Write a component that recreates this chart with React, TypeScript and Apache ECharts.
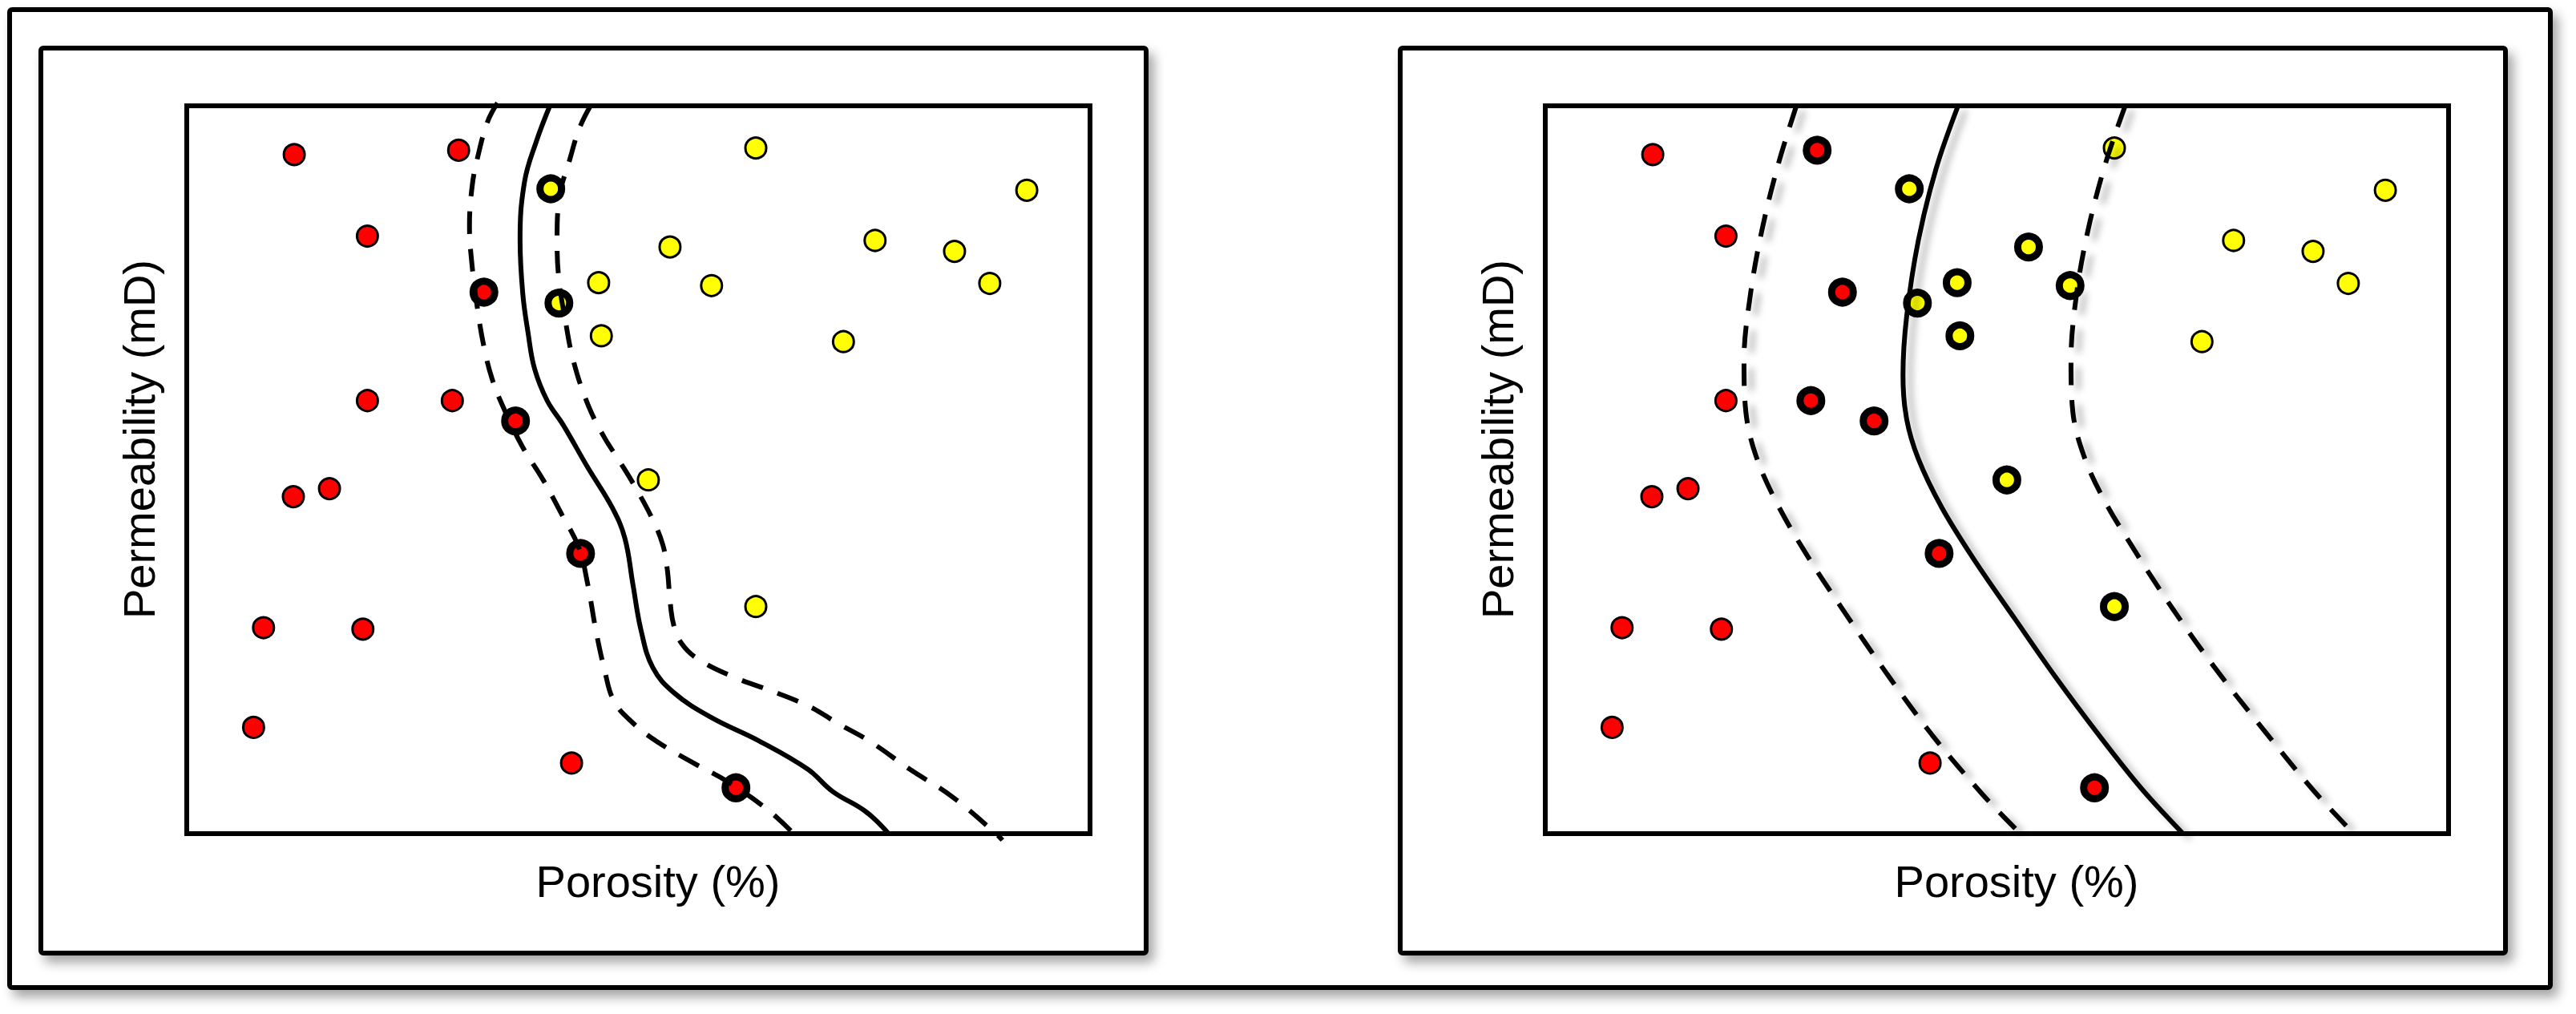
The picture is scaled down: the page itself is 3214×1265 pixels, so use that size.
import React, { useEffect, useRef } from "react";
import * as echarts from "echarts";

// Sample points: [porosity, permeability] in relative units (0-100)
const redSamples: number[][] = [
  [11.9, 93.3], [30.1, 93.9], [20.0, 82.1], [20.0, 59.5], [29.4, 59.5],
  [15.8, 47.4], [11.8, 46.3], [8.5, 28.3], [19.5, 28.1], [7.4, 14.6],
  [42.6, 9.7], [32.9, 74.4], [36.4, 56.7], [43.6, 38.5], [60.8, 6.3],
];
const yellowSamples: number[][] = [
  [40.3, 88.6], [41.2, 72.9], [63.0, 94.2], [93.0, 88.4], [53.5, 80.6],
  [76.2, 81.5], [85.0, 80.0], [45.6, 75.7], [58.1, 75.3], [88.9, 75.6],
  [45.9, 68.4], [72.7, 67.6], [51.1, 48.6], [63.0, 31.2],
];

// Indices of samples drawn with a thick ring (uncertain zone)
const leftRedRing = [11, 12, 13, 14];
const leftYellowRing = [0, 1];
const rightRedRing = [1, 4, 11, 12, 13, 14];
const rightYellowRing = [0, 1, 4, 7, 8, 10, 12, 13];

// Left panel curves
const leftBoundary: number[][] = [
  [40.2, 100], [38.7, 95.1], [37.4, 89.6], [36.9, 81.6], [37.2, 74.2],
  [37.8, 68.7], [38.5, 63.9], [39.9, 59.5], [41.7, 56.1], [44.4, 50.3],
  [47.1, 44.8], [48.5, 40.6], [49.4, 34.2], [50.3, 27.9], [51.6, 22.8],
  [53.9, 19.4], [58.0, 16.0], [63.4, 12.7], [68.8, 8.8], [71.5, 5.8],
  [75.2, 3.0], [77.7, 0],
];
const leftLowerBand: number[][] = [
  [34.4, 100.4], [33.3, 97.8], [32.2, 92.9], [31.6, 89.0], [31.3, 83.5],
  [31.6, 77.9], [32.2, 72.0], [32.9, 66.9], [33.8, 62.5], [35.0, 58.7],
  [37.1, 53.3], [39.5, 48.5], [41.5, 43.9], [43.4, 39.3], [44.4, 34.2],
  [45.3, 27.9], [46.2, 22.8], [47.3, 18.2], [49.4, 15.2], [52.0, 12.7],
  [56.1, 9.7], [59.8, 7.2], [64.3, 3.3], [67.2, 0],
];
const leftUpperBand: number[][] = [
  [44.7, 100], [43.5, 97.0], [42.4, 92.6], [41.2, 87.1], [41.0, 81.6],
  [41.2, 76.1], [41.9, 70.6], [42.8, 65.0], [44.4, 59.0], [46.2, 54.5],
  [48.0, 51.0], [49.8, 47.3], [51.6, 43.1], [52.7, 39.7], [53.2, 36.3],
  [53.5, 32.1], [53.9, 28.7], [54.8, 26.1], [56.6, 24.0], [60.6, 21.5],
  [65.2, 19.4], [69.2, 17.3], [72.0, 15.2], [75.6, 12.7], [80.1, 8.8],
  [84.7, 5.1], [89.6, 0], [90.3, -0.9],
];

// Right panel curves
const rightBoundary: number[][] = [
  [45.7, 100], [43.3, 91.5], [41.3, 81.5], [40.0, 71.0], [39.6, 63.0],
  [40.0, 57.0], [41.3, 51.5], [43.9, 44.8], [47.5, 37.6], [52.0, 29.5],
  [56.5, 21.5], [61.5, 13.2], [66.0, 6.2], [70.6, 0],
];
const rightLowerBand: number[][] = [
  [27.8, 100], [25.8, 92.0], [24.0, 83.0], [22.7, 74.0], [22.0, 65.0],
  [22.2, 58.0], [23.3, 52.0], [25.6, 45.5], [29.0, 38.2], [33.2, 30.3],
  [37.8, 22.0], [42.8, 13.6], [48.4, 5.4], [52.6, 0],
];
const rightUpperBand: number[][] = [
  [64.2, 100], [62.0, 92.0], [60.1, 83.0], [58.8, 74.0], [58.2, 65.0],
  [58.4, 58.0], [59.6, 52.0], [61.8, 46.0], [65.2, 39.0], [69.4, 31.0],
  [74.0, 23.0], [79.3, 14.6], [85.0, 6.0], [89.5, 0],
];

const xTitle = "Porosity (%)";
const yTitle = "Permeability (mD)";

const FONT = "'Liberation Sans', Arial, Helvetica, sans-serif";

function pick(arr: number[][], idx: number[], inRing: boolean) {
  return arr.filter((_, i) => idx.includes(i) === inRing);
}

function panelSeries(
  g: number,
  redRing: number[],
  yellowRing: number[],
  curves: number[][][],
  shadow: boolean,
  smooth: number
) {
  const base = { xAxisIndex: g, yAxisIndex: g, silent: true };
  const plain = (color: string, data: number[][]) => ({
    ...base,
    type: "scatter",
    symbol: "circle",
    symbolSize: 26,
    data,
    z: 2,
    itemStyle: { color, borderColor: "#000", borderWidth: 3, opacity: 1 },
  });
  const ring = (color: string, data: number[][]) => ({
    ...base,
    type: "scatter",
    symbol: "circle",
    symbolSize: 27,
    data,
    z: 2,
    itemStyle: { color, borderColor: "#000", borderWidth: 9, opacity: 1 },
  });
  const shadowStyle = shadow
    ? {
        shadowColor: "rgba(0,0,0,0.28)",
        shadowBlur: 8,
        shadowOffsetX: 9,
        shadowOffsetY: 6,
      }
    : {};
  const line = (data: number[][], dashed: boolean) => ({
    ...base,
    type: "line",
    data,
    symbol: "none",
    showSymbol: false,
    smooth,
    clip: false,
    z: 4,
    lineStyle: {
      color: "#000",
      width: 6,
      type: dashed ? [28, 19] : "solid",
      cap: "butt",
      ...shadowStyle,
    },
  });
  return [
    plain("#FF0000", pick(redSamples, redRing, false)),
    ring("#FF0000", pick(redSamples, redRing, true)),
    plain("#FFFF00", pick(yellowSamples, yellowRing, false)),
    ring("#FFFF00", pick(yellowSamples, yellowRing, true)),
    line(curves[1], true),
    line(curves[2], true),
    line(curves[0], false),
  ];
}

function frame(x: number, y: number, w: number, h: number) {
  return {
    type: "rect",
    z: -10,
    shape: { x, y, width: w, height: h, r: 3 },
    style: {
      fill: "#ffffff",
      stroke: "#000000",
      lineWidth: 6,
      shadowBlur: 14,
      shadowOffsetX: 7,
      shadowOffsetY: 9,
      shadowColor: "rgba(0,0,0,0.35)",
    },
  };
}

function label(text: string, x: number, y: number, rotation: number) {
  return {
    type: "text",
    z: 5,
    x,
    y,
    rotation,
    style: {
      text,
      fontSize: 56,
      fontFamily: FONT,
      fill: "#000",
      align: "center",
      verticalAlign: "middle",
      textAlign: "center",
      textVerticalAlign: "middle",
    },
  };
}

export default function App() {
  const ref = useRef<HTMLDivElement>(null);

  useEffect(() => {
    document.body.style.margin = "0";
    document.body.style.background = "#fff";
    if (!ref.current) return;
    const chart = echarts.init(ref.current, undefined, { renderer: "svg" });
    const axisCommon = {
      type: "value",
      min: 0,
      max: 100,
      axisLine: { show: false },
      axisTick: { show: false },
      axisLabel: { show: false },
      splitLine: { show: false },
    };
    const gridCommon = {
      show: true,
      borderColor: "#000",
      borderWidth: 6,
      backgroundColor: "transparent",
      containLabel: false,
    };
    chart.setOption({
      animation: false,
      backgroundColor: "#fff",
      grid: [
        { ...gridCommon, left: 233, top: 132, width: 1127, height: 908 },
        { ...gridCommon, left: 1928, top: 132, width: 1127, height: 908 },
      ],
      xAxis: [
        { ...axisCommon, gridIndex: 0 },
        { ...axisCommon, gridIndex: 1 },
      ],
      yAxis: [
        { ...axisCommon, gridIndex: 0 },
        { ...axisCommon, gridIndex: 1 },
      ],
      graphic: [
        frame(12, 12, 3170, 1220),
        frame(51, 60, 1379, 1129),
        frame(1747, 60, 1379, 1129),
        label(xTitle, 821, 1099, 0),
        label(xTitle, 2516, 1099, 0),
        label(yTitle, 173, 548, Math.PI / 2),
        label(yTitle, 1868, 548, Math.PI / 2),
      ],
      series: [
        ...panelSeries(0, leftRedRing, leftYellowRing, [leftBoundary, leftLowerBand, leftUpperBand], false, 0.4),
        ...panelSeries(1, rightRedRing, rightYellowRing, [rightBoundary, rightLowerBand, rightUpperBand], true, 0.35),
      ],
    });
    return () => chart.dispose();
  }, []);

  return <div ref={ref} style={{ width: 3214, height: 1265 }} />;
}
